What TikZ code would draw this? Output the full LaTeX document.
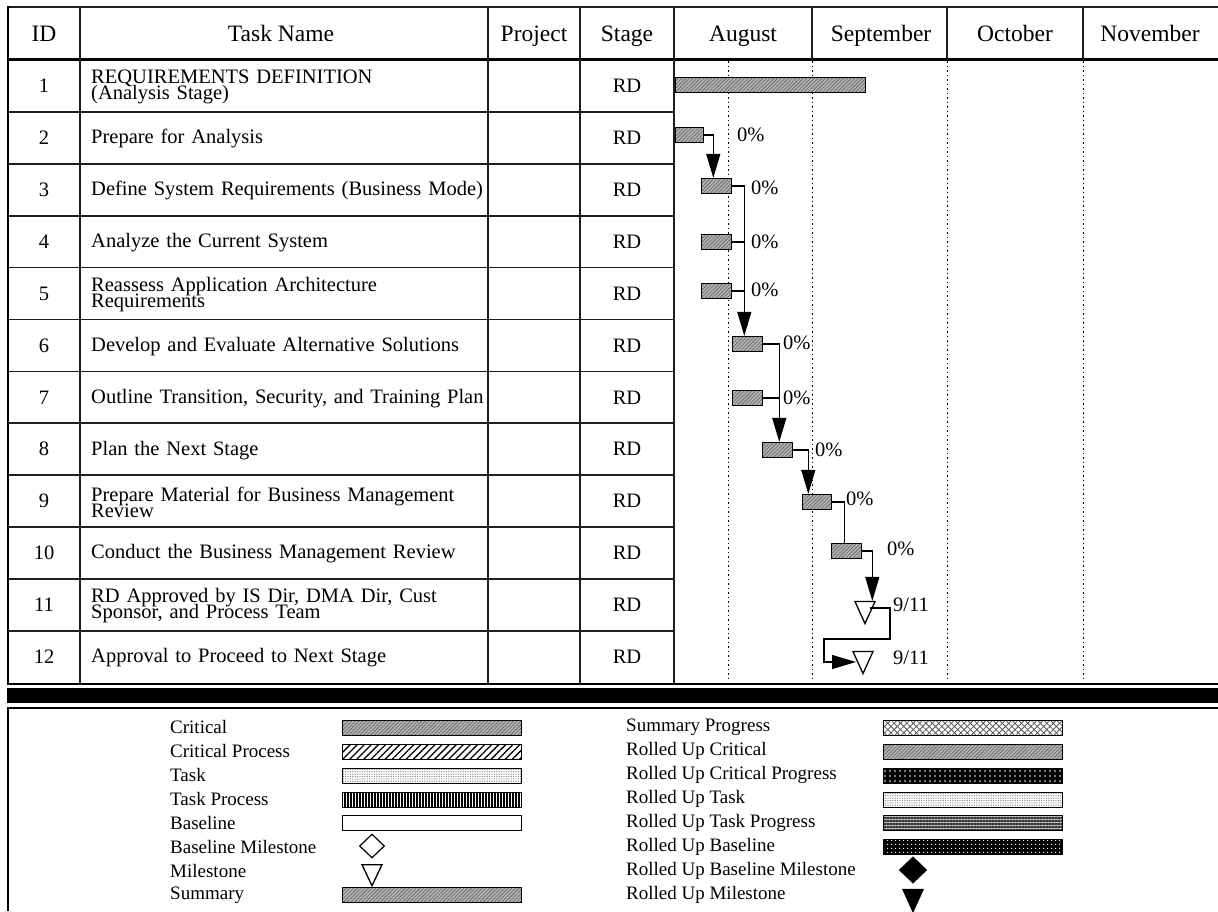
\documentclass[tikz,border=0pt]{standalone}
\usepackage{fontspec}
\setmainfont{Liberation Serif}
\usetikzlibrary{arrows.meta, patterns.meta, shapes.geometric, positioning}
\definecolor{critgray}{RGB}{178,178,178}
\definecolor{critdark}{RGB}{95,95,95}
\definecolor{rulegray}{RGB}{30,30,30}
\newcommand{\tightlines}{\lineskiplimit=-30pt\relax}

\begin{document}
\begin{tikzpicture}[
    x=1pt, y=-1pt,
    rule/.style={line width=1.7pt, draw=rulegray},
    heavy/.style={line width=3pt},
    gridline/.style={line width=1pt, dash pattern=on 1.5pt off 3pt},
    hdr/.style={font=\fontsize{23.5}{25}\selectfont, inner sep=0pt, anchor=base},
    cell/.style={font=\fontsize{20.5}{16.2}\selectfont, inner sep=0pt},
    key/.style={font=\fontsize{19}{20}\selectfont, inner sep=0pt, anchor=west},
    pct/.style={font=\fontsize{20.5}{22}\selectfont, inner sep=0pt, anchor=west},
    critfill/.style={preaction={fill=critgray}, pattern={Lines[angle=45, distance=2.6pt, line width=0.6pt]}, pattern color=critdark},
    dotfill/.style={preaction={fill=white}, pattern={Dots[distance=2.4pt, radius=0.7pt]}, pattern color=gray!90},
    bar/.style={draw, line width=1.3pt, critfill, minimum height=15pt, inner sep=0pt, anchor=west},
    link/.style={line width=1.3pt},
    linkarrow/.style={link, -{Triangle[width=14pt, length=24pt]}},
    mile/.style={draw, line width=1.3pt, fill=white, isosceles triangle, isosceles triangle stretches, shape border rotate=270, minimum width=20pt, minimum height=22pt, inner sep=0pt},
    swatch/.style={draw, line width=1.2pt, minimum width=179pt, minimum height=15pt, inner sep=0pt},
    gem/.style={draw, line width=1.2pt, diamond, aspect=1, minimum width=25pt, minimum height=24pt, inner sep=0pt}
]
\useasboundingbox (0,0) rectangle (1218,911);

\draw[rule] (8,7) -- (1218,7);
\draw[heavy] (8,59) -- (1218,59);
\draw[line width=2.5pt] (8,6) -- (8,685);
\foreach \cx in {80,488,580,674} \draw[rule] (\cx,7) -- (\cx,684);
\foreach \cx in {812,947,1083} \draw[rule] (\cx,7) -- (\cx,59);
\foreach \k in {1,...,11} \draw[rule] (8,{60+\k*51.9}) -- (674,{60+\k*51.9});
\foreach \cx in {728,812,947,1083} \draw[gridline] (\cx,61) -- (\cx,682);
\draw[line width=2pt] (8,684) -- (1218,684);
\fill (7,688) rectangle (1218,703);
\draw[line width=2pt] (7,708) -- (1218,708);
\draw[line width=2.5pt] (8,707) -- (8,911);

\node[hdr] (hid) at (44,41) {ID};
\node[hdr] (hname) at (281,41) {Task Name};
\node[hdr] (hproj) at (534,41) {Project};
\node[hdr] (hstage) at (627,41) {Stage};
\node[hdr] (haug) at (743,41) {August};
\node[hdr] (hsep) at (881,41) {September};
\node[hdr] (hoct) at (1015,41) {October};
\node[hdr] (hnov) at (1150,41) {November};

\foreach \k/\task in {
    1/{REQUIREMENTS DEFINITION\\(Analysis Stage)},
    2/{Prepare for Analysis},
    3/{Define System Requirements (Business Mode)},
    4/{Analyze the Current System},
    5/{Reassess Application Architecture\\Requirements},
    6/{Develop and Evaluate Alternative Solutions},
    7/{Outline Transition, Security, and Training Plan},
    8/{Plan the Next Stage},
    9/{Prepare Material for Business Management\\Review},
    10/{Conduct the Business Management Review},
    11/{RD Approved by IS Dir, DMA Dir, Cust\\Sponsor, and Process Team},
    12/{Approval to Proceed to Next Stage}} {
  \node[cell] (id\k) at (44,{60+(\k-0.5)*51.9}) {\k};
  \node[cell, anchor=west, text width=430pt, align=left, execute at begin node=\tightlines] (t\k) at (91,{61+(\k-0.5)*51.9}) {\task};
  \node[cell] (s\k) at (627,{60+(\k-0.5)*51.9}) {RD};
}

\node[bar, minimum width=190pt] (b1) at (675,85) {};
\node[bar, minimum width=28pt] (b2) at (675,135) {};
\node[bar, minimum width=30pt] (b3) at (701,186) {};
\node[bar, minimum width=30pt] (b4) at (701,242) {};
\node[bar, minimum width=30pt] (b5) at (701,291) {};
\node[bar, minimum width=30pt] (b6) at (732,344) {};
\node[bar, minimum width=30pt] (b7) at (732,398) {};
\node[bar, minimum width=30pt] (b8) at (762,450) {};
\node[bar, minimum width=29pt] (b9) at (802,502) {};
\node[bar, minimum width=30pt] (b10) at (831,551) {};
\node[mile] (m11) at (865,608) {};
\node[mile] (m12) at (863,658) {};

\node[pct] (p2) at (737,135) {0\%};
\node[pct] (p3) at (751,188) {0\%};
\node[pct] (p4) at (751,242) {0\%};
\node[pct] (p5) at (751,290) {0\%};
\node[pct] (p6) at (783,343) {0\%};
\node[pct] (p7) at (783,398) {0\%};
\node[pct] (p8) at (815,450) {0\%};
\node[pct] (p9) at (846,499) {0\%};
\node[pct] (p10) at (887,549) {0\%};
\node[pct] (d11) at (893,605) {9/11};
\node[pct] (d12) at (893,658) {9/11};

\draw[linkarrow] (b2.east) -- ++(9,0) coordinate (j2) -- (j2 |- b3.north);
\draw[linkarrow] (b3.east) -- ++(12,0) coordinate (j3) -- (j3 |- b6.north);
\draw[link] (b4.east) -- (b4.east -| j3);
\draw[link] (b5.east) -- (b5.east -| j3);
\draw[linkarrow] (b6.east) -- ++(16,0) coordinate (j6) -- (j6 |- b8.north);
\draw[link] (b7.east) -- (b7.east -| j6);
\draw[linkarrow] (b8.east) -- ++(15,0) coordinate (j8) -- (j8 |- b9.north);
\draw[link] (b9.east) -- ++(12,0) coordinate (j9) -- (j9 |- b10.north);
\draw[linkarrow] (b10.east) -- ++(10,0) coordinate (j10) -- (j10 |- m11.north);
\draw[linkarrow] ([xshift=5pt]m11.center) -| ++(20,31) -| ++(-66,23) -- ++(32,0);

\foreach \i/\lbl in {0/Critical, 1/Critical Process, 2/Task, 3/Task Process, 4/Baseline,
    5/Baseline Milestone, 6/Milestone, 7/Summary}
  \node[key] (kl\i) at (170,{727+24*\i}) {\lbl};
\foreach \i/\lbl in {0/Summary Progress, 1/Rolled Up Critical, 2/Rolled Up Critical Progress,
    3/Rolled Up Task, 4/Rolled Up Task Progress, 5/Rolled Up Baseline,
    6/Rolled Up Baseline Milestone, 7/Rolled Up Milestone}
  \node[key] (kr\i) at (626,{727+24*\i}) {\lbl};

\node[swatch, critfill] (critical) at (432,728) {};
\node[swatch, fill=white, pattern={Lines[angle=45, distance=5pt, line width=1.3pt]}] (critproc) at (432,752) {};
\node[swatch, dotfill] (task) at (432,776) {};
\node[swatch, preaction={fill=white}, pattern={Lines[angle=90, distance=3pt, line width=1.4pt]}] (taskproc) at (432,800) {};
\node[swatch, fill=white] (baseline) at (432,823) {};
\node[gem, fill=white] (basemile) at (372,846) {};
\node[mile, minimum height=21pt] (milestone) at (372,871) {};
\node[swatch, critfill] (summary) at (432,895) {};

\node[swatch, preaction={fill=white}, pattern={Hatch[angle=45, distance=4.5pt, line width=0.8pt]}, pattern color=black!65] (sumprog) at (973,728) {};
\node[swatch, critfill] (rucrit) at (973,752) {};
\node[swatch, preaction={fill=black}, pattern={Dots[distance=5pt, radius=0.8pt]}, pattern color=white] (rucritprog) at (973,776) {};
\node[swatch, dotfill] (rutask) at (973,800) {};
\node[swatch, preaction={fill=gray!55}, pattern={Lines[angle=0, distance=3pt, line width=1.2pt]}, pattern color=black!80] (rutaskprog) at (973,823) {};
\node[swatch, preaction={fill=black}, pattern={Dots[distance=4pt, radius=0.8pt]}, pattern color=white] (rubase) at (973,847) {};
\node[gem, fill=black, minimum width=27pt, minimum height=26pt] (rubasemile) at (913,870) {};
\node[mile, fill=black] (rumile) at (913,896) {};
\end{tikzpicture}
\end{document}
